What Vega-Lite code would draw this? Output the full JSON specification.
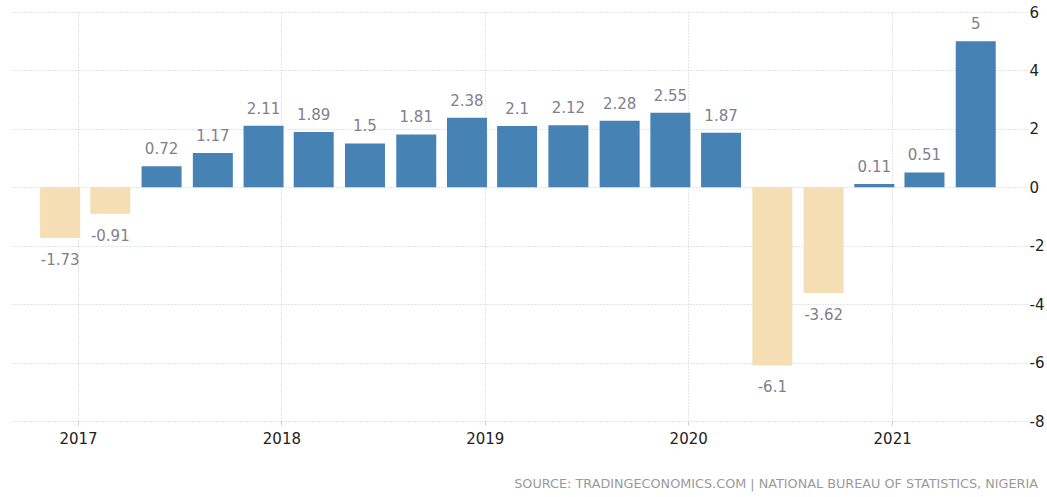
{
  "$schema": "https://vega.github.io/schema/vega-lite/v6.json",
  "autosize": "none",
  "width": 1017,
  "height": 409,
  "padding": {"left": 10, "top": 12, "right": 20, "bottom": 76},
  "background": "white",
  "config": {"view": {"stroke": null}},
  "title": {
    "text": "SOURCE: TRADINGECONOMICS.COM | NATIONAL BUREAU OF STATISTICS, NIGERIA",
    "orient": "bottom",
    "anchor": "end",
    "frame": "group",
    "offset": 32,
    "dx": 11,
    "font": "DejaVu Sans",
    "fontSize": 12.8,
    "fontWeight": "normal",
    "color": "#9a9a9a"
  },
  "data": {
    "values": [
      {"date": "2016-11-30", "value": -1.73},
      {"date": "2017-02-28", "value": -0.91},
      {"date": "2017-05-31", "value": 0.72},
      {"date": "2017-08-31", "value": 1.17},
      {"date": "2017-11-30", "value": 2.11},
      {"date": "2018-02-28", "value": 1.89},
      {"date": "2018-05-31", "value": 1.5},
      {"date": "2018-08-31", "value": 1.81},
      {"date": "2018-11-30", "value": 2.38},
      {"date": "2019-02-28", "value": 2.1},
      {"date": "2019-05-31", "value": 2.12},
      {"date": "2019-08-31", "value": 2.28},
      {"date": "2019-11-30", "value": 2.55},
      {"date": "2020-02-29", "value": 1.87},
      {"date": "2020-05-31", "value": -6.1},
      {"date": "2020-08-31", "value": -3.62},
      {"date": "2020-11-30", "value": 0.11},
      {"date": "2021-02-28", "value": 0.51},
      {"date": "2021-05-31", "value": 5}
    ]
  },
  "encoding": {
    "x": {
      "field": "date",
      "type": "temporal",
      "scale": {
        "type": "utc",
        "padding": 0,
        "domain": [
          {"year": 2016, "month": 9, "date": 1, "utc": true},
          {"year": 2021, "month": 8, "date": 31, "utc": true}
        ]
      },
      "axis": {
        "title": null,
        "format": "%Y",
        "tickCount": "year",
        "domain": false,
        "ticks": true,
        "tickSize": 4,
        "tickColor": "#cccccc",
        "grid": true,
        "gridColor": "#c8c8c8",
        "gridDash": [1, 2],
        "labelFont": "DejaVu Sans",
        "labelFontSize": 15,
        "labelColor": "#222222",
        "labelPadding": 6
      }
    },
    "y": {
      "field": "value",
      "type": "quantitative",
      "scale": {"domain": [-8, 6], "nice": false, "zero": true},
      "axis": {
        "title": null,
        "orient": "right",
        "values": [-8, -6, -4, -2, 0, 2, 4, 6],
        "labelExpr": "datum.value < 0 ? '-' + abs(datum.value) : '' + datum.value",
        "domain": false,
        "ticks": false,
        "grid": true,
        "gridColor": "#c8c8c8",
        "gridDash": [1, 2],
        "labelFont": "DejaVu Sans",
        "labelFontSize": 15,
        "labelColor": "#222222",
        "labelPadding": 2
      }
    }
  },
  "layer": [
    {
      "mark": {"type": "bar", "width": 40},
      "encoding": {
        "color": {
          "condition": {"test": "datum.value < 0", "value": "#F5DEB3"},
          "value": "#4682B4"
        }
      }
    },
    {
      "transform": [{"filter": "datum.value >= 0"}],
      "mark": {"type": "text", "baseline": "alphabetic", "dy": -12, "font": "DejaVu Sans", "fontSize": 15, "color": "#80808c"},
      "encoding": {"text": {"field": "value", "type": "nominal"}}
    },
    {
      "transform": [{"filter": "datum.value < 0"}],
      "mark": {"type": "text", "baseline": "top", "dy": 15, "font": "DejaVu Sans", "fontSize": 15, "color": "#80808c"},
      "encoding": {"text": {"field": "value", "type": "nominal"}}
    }
  ]
}
